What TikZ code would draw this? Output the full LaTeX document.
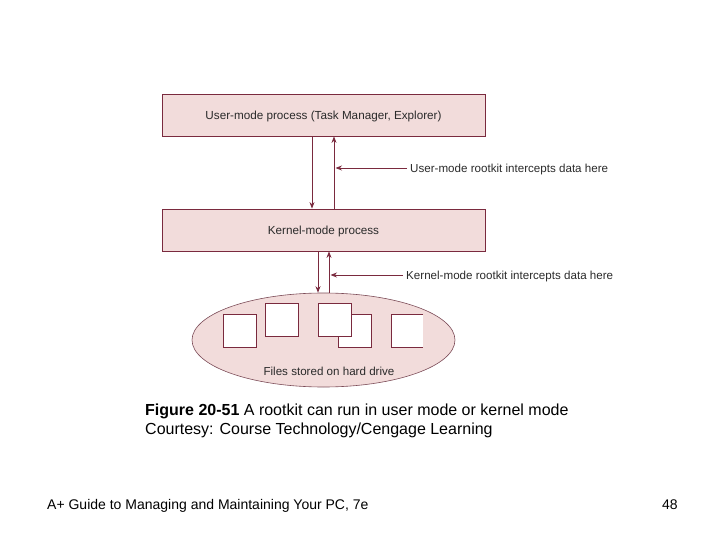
\documentclass[tikz,border=0pt]{standalone}
\usepackage{fontspec}
\setmainfont{Liberation Sans}
\usetikzlibrary{arrows.meta,shapes.geometric}
\definecolor{boxfill}{HTML}{F2DCDB}
\definecolor{maroon}{HTML}{7A2A3E}
\definecolor{txt}{HTML}{2A2A2A}
\tikzset{
  procbox/.style={draw=maroon, fill=boxfill, line width=0.8pt, minimum width=323pt, minimum height=42pt, inner sep=0pt, font=\fontsize{11.7}{13}\selectfont, text=txt, text height=8.4pt, text depth=0pt},
  arr/.style={draw=maroon, line width=0.8pt, -{Stealth[length=6.5pt,width=5pt]}},
  lbl/.style={anchor=west, inner sep=0pt, font=\fontsize{11.6}{13}\selectfont, text=txt, text height=8.4pt, text depth=0pt},
  filebox/.style={draw=maroon, fill=white, line width=0.8pt, minimum size=33pt, inner sep=0pt},
  captxt/.style={anchor=base west, inner sep=0pt, font=\fontsize{16}{18}\selectfont, text=black},
}
\begin{document}
\begin{tikzpicture}[x=1pt,y=-1pt]
\useasboundingbox (0,0) rectangle (720,540);
\node[procbox] (user) at (323.5,115) {User-mode process (Task Manager, Explorer)};
\node[procbox] (kern) at (323.5,230) {Kernel-mode process};
\node[ellipse, draw=maroon!60!gray, fill=boxfill, line width=0.6pt, minimum width=263pt, minimum height=94pt, inner sep=0pt] (disk) at (323.5,340) {};
% files
\node[filebox] (f1) at (239.5,330.5) {};
\node[filebox] (f2) at (282,319.5) {};
\node[filebox] (f3b) at (354.5,330.5) {};
\node[filebox] (f3) at (334.5,319.5) {};
\fill[white] (391,314) rectangle (423,347);
\draw[maroon, line width=0.8pt] (423,314) -- (391,314) -- (391,347) -- (423,347);
\node[inner sep=0pt, font=\fontsize{11.6}{13}\selectfont, text=txt, text height=8.4pt, text depth=0pt] (ftxt) at (329,371) {Files stored on hard drive};
% arrows user<->kernel
\coordinate (d1) at (312,0);
\coordinate (u1) at (334,0);
\draw[arr] (user.south -| d1) -- (kern.north -| d1);
\draw[arr] (kern.north -| u1) -- (user.south -| u1);
\node[lbl] (l1) at (410,168) {User-mode rootkit intercepts data here};
\coordinate (t1) at (335.5,168);
\draw[arr] (l1.west) ++(-3,0) -- (t1);
% arrows kernel<->disk
\coordinate (d2) at (318,0);
\coordinate (u2) at (329,0);
\draw[arr] (kern.south -| d2) -- (disk.north -| d2);
\draw[arr] (disk.north -| u2) -- (kern.south -| u2);
\node[lbl] (l2) at (406,275) {Kernel-mode rootkit intercepts data here};
\coordinate (t2) at (330.5,275);
\draw[arr] (l2.west) ++(-3,0) -- (t2);
% caption
\node[captxt] (c1) at (145,415.5) {\textbf{Figure 20-51} A rootkit can run in user mode or kernel mode};
\node[captxt] (c2) at (145,434.5) {Courtesy: Course Technology/Cengage Learning};
\node[captxt, font=\fontsize{14}{16}\selectfont] (foot) at (47,509) {A+ Guide to Managing and Maintaining Your PC, 7e};
\node[captxt, font=\fontsize{14}{16}\selectfont] (pg) at (662,509) {48};
\end{tikzpicture}
\end{document}
